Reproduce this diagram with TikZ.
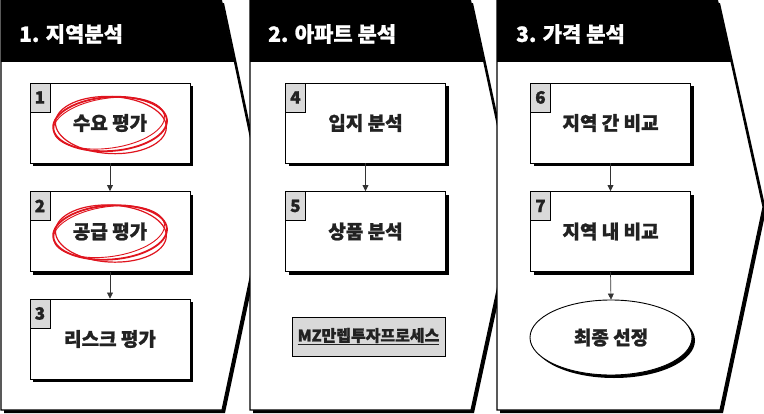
\documentclass[tikz,border=0pt]{standalone}
\usepackage{fontspec}
\newfontfamily\kr{Noto Sans CJK KR}[BoldFeatures={FakeBold=1.2}]
\usetikzlibrary{arrows.meta,shadows,shapes.geometric}
\definecolor{txt}{HTML}{222222}
\definecolor{tagfill}{HTML}{D9D9D9}
\definecolor{redpen}{HTML}{E0141E}
\definecolor{conncol}{HTML}{333333}
\tikzset{
  panel/.style={fill=white, draw=black, line width=1.1pt, line join=miter},
  pshadow/.style={fill=black},
  stepbox/.style={rectangle, draw=black, line width=0.9pt, fill=white,
    minimum width=160pt, minimum height=80pt, inner sep=0pt,
    drop shadow={shadow xshift=3pt, shadow yshift=-3pt, fill=black, opacity=1},
    font=\kr\bfseries\fontsize{19}{19}\selectfont, text=txt},
  tagbox/.style={rectangle, draw=black, line width=0.8pt, fill=tagfill,
    minimum width=20pt, minimum height=29pt, inner sep=0pt, anchor=north west,
    font=\kr\bfseries\fontsize{17}{17}\selectfont, text=txt},
  hdr/.style={anchor=west, inner sep=0pt, text=white,
    font=\kr\bfseries\fontsize{21}{21}\selectfont},
  conn/.style={draw=conncol, line width=0.7pt, -{Triangle[length=6pt,width=6pt]}},
  endnode/.style={ellipse, draw=black, line width=0.9pt, fill=white,
    minimum width=162pt, minimum height=75pt, inner sep=0pt,
    drop shadow={shadow xshift=3pt, shadow yshift=-3pt, fill=black, opacity=1},
    font=\kr\bfseries\fontsize{19}{19}\selectfont, text=txt},
  mzbox/.style={rectangle, draw=black, line width=0.8pt, fill=tagfill,
    minimum width=153pt, minimum height=39pt, inner sep=0pt,
    font=\kr\bfseries\fontsize{16}{16}\selectfont, text=txt},
  redloop/.style={draw=redpen, line cap=round}
}
\begin{document}
\begin{tikzpicture}[x=1pt,y=-1pt]
\useasboundingbox (0,0) rectangle (764,413);
% ---------- panels ----------
% panel 1
\fill[pshadow] (4,3) -- (224,3) -- (268,210) -- (225,413) -- (4,413) -- cycle;
\draw[panel] (1,-2) -- (221,-2) -- (265,207) -- (222,410) -- (1,410) -- cycle;
\begin{scope}
  \clip (1,-2) -- (221,-2) -- (265,207) -- (222,410) -- (1,410) -- cycle;
  \fill[black] (0,-5) rectangle (300,62);
\end{scope}
% panel 2
\fill[pshadow] (253,3) -- (473,3) -- (518,210) -- (474,413) -- (253,413) -- cycle;
\draw[panel] (250,-2) -- (470,-2) -- (515,207) -- (471,410) -- (250,410) -- cycle;
\begin{scope}
  \clip (250,-2) -- (470,-2) -- (515,207) -- (471,410) -- (250,410) -- cycle;
  \fill[black] (240,-5) rectangle (540,62);
\end{scope}
% panel 3
\fill[pshadow] (500,3) -- (720,3) -- (766,210) -- (723,413) -- (500,413) -- cycle;
\draw[panel] (497,-2) -- (717,-2) -- (763,207) -- (720,410) -- (497,410) -- cycle;
\begin{scope}
  \clip (497,-2) -- (717,-2) -- (763,207) -- (720,410) -- (497,410) -- cycle;
  \fill[black] (490,-5) rectangle (790,62);
\end{scope}
% headers
\node[hdr] (h1) at (19,34) {1. 지역분석};
\node[hdr] (h2) at (268,34) {2. 아파트 분석};
\node[hdr] (h3) at (516,34) {3. 가격 분석};
% ---------- boxes ----------
\node[stepbox] (b1) at (110,123) {수요 평가};
\node[stepbox] (b2) at (110,231.5) {공급 평가};
\node[stepbox] (b3) at (110,339) {리스크 평가};
\node[stepbox] (b4) at (365.5,123) {입지 분석};
\node[stepbox] (b5) at (365.5,231.5) {상품 분석};
\node[stepbox] (b6) at (610.5,123) {지역 간 비교};
\node[stepbox] (b7) at (610.5,231.5) {지역 내 비교};
\node[endnode] (e8) at (611,337.5) {최종 선정};
\node[mzbox] (mz) at (368.5,336.5) {\underline{MZ만렙투자프로세스}};
% tags
\node[tagbox] (t1) at (b1.north west) {1};
\node[tagbox] (t2) at (b2.north west) {2};
\node[tagbox] (t3) at (b3.north west) {3};
\node[tagbox] (t4) at (b4.north west) {4};
\node[tagbox] (t5) at (b5.north west) {5};
\node[tagbox] (t6) at (b6.north west) {6};
\node[tagbox] (t7) at (b7.north west) {7};
% connectors
\draw[conn] (b1.south) -- (b2.north);
\draw[conn] (b2.south) -- (b3.north);
\draw[conn] (b4.south) -- (b5.north);
\draw[conn] (b6.south) -- (b7.north);
\draw[conn] (b7.south) -- (e8.north);
% red hand-drawn loops
\foreach \bx in {b1,b2}{
  \begin{scope}[shift={(\bx.center)}]
    \draw[redloop, line width=1.8pt, rotate=4] (0,1) ellipse [x radius=57, y radius=27];
    \draw[redloop, line width=1.2pt, rotate=-3] (1,2) ellipse [x radius=55.5, y radius=28.5];
    \draw[redloop, line width=0.9pt, rotate=8] (-1,0) ellipse [x radius=56, y radius=25];
  \end{scope}
}
\end{tikzpicture}
\end{document}
